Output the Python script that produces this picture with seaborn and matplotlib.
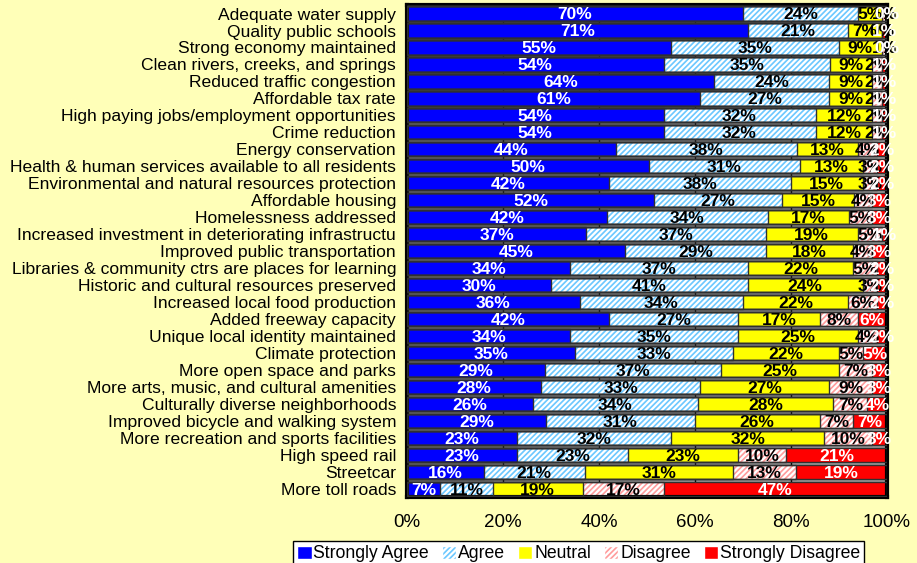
import numpy as np
import pandas as pd
import matplotlib
import matplotlib.pyplot as plt
import seaborn as sns
from matplotlib.patches import Patch


items = [
    "Adequate water supply",
    "Quality public schools",
    "Strong economy maintained",
    "Clean rivers, creeks, and springs",
    "Reduced traffic congestion",
    "Affordable tax rate",
    "High paying jobs/employment opportunities",
    "Crime reduction",
    "Energy conservation",
    "Health & human services available to all residents",
    "Environmental and natural resources protection",
    "Affordable housing",
    "Homelessness addressed",
    "Increased investment in deteriorating infrastructu",
    "Improved public transportation",
    "Libraries & community ctrs are places for learning",
    "Historic and cultural resources preserved",
    "Increased local food production",
    "Added freeway capacity",
    "Unique local identity maintained",
    "Climate protection",
    "More open space and parks",
    "More arts, music, and cultural amenities",
    "Culturally diverse neighborhoods",
    "Improved bicycle and walking system",
    "More recreation and sports facilities",
    "High speed rail",
    "Streetcar",
    "More toll roads",
]

strongly_agree = [70, 71, 55, 54, 64, 61, 54, 54, 44, 50, 42, 52, 42, 37, 45,
                  34, 30, 36, 42, 34, 35, 29, 28, 26, 29, 23, 23, 16, 7]
agree = [24, 21, 35, 35, 24, 27, 32, 32, 38, 31, 38, 27, 34, 37, 29,
         37, 41, 34, 27, 35, 33, 37, 33, 34, 31, 32, 23, 21, 11]
neutral = [5, 7, 9, 9, 9, 9, 12, 12, 13, 13, 15, 15, 17, 19, 18,
           22, 24, 22, 17, 25, 22, 25, 27, 28, 26, 32, 23, 31, 19]
disagree = [1, 0, 1, 2, 2, 2, 2, 2, 4, 3, 3, 4, 5, 5, 4,
            5, 3, 6, 8, 4, 5, 7, 9, 7, 7, 10, 10, 13, 17]
strongly_disagree = [0, 1, 0, 1, 1, 1, 1, 1, 2, 2, 2, 3, 3, 1, 3,
                     2, 2, 2, 6, 2, 5, 3, 3, 4, 7, 3, 21, 19, 47]

levels = ["Strongly Agree", "Agree", "Neutral", "Disagree", "Strongly Disagree"]
fills = ["#0000FF", "#6CC8FF", "#FFFF00", "#FF9C9C", "#FF0000"]
hatches = [None, "//////", None, "//////", None]
text_colors = ["white", "black", "black", "black", "white"]

df = pd.DataFrame({"item": items, "Strongly Agree": strongly_agree, "Agree": agree,
                   "Neutral": neutral, "Disagree": disagree,
                   "Strongly Disagree": strongly_disagree})

# 100% stacked: normalise each row
vals = df[levels].to_numpy(dtype=float)
share = vals / vals.sum(axis=1, keepdims=True) * 100
cum = np.cumsum(share, axis=1)

bg = "#FFFFB8"
plt.rcParams["font.family"] = ["Liberation Sans", "DejaVu Sans"]
plt.rcParams["hatch.linewidth"] = 1.6

fig = plt.figure(figsize=(9.17, 5.63), dpi=100, facecolor=bg)
ax = fig.add_axes([0.444, 0.117, 0.523, 0.874])
ax.set_facecolor("#9c9c9c")

# widest first, each next level painted over the left part
for i in range(4, -1, -1):
    sns.barplot(x=cum[:, i], y=df["item"], orient="h", color=fills[i],
                saturation=1, width=0.84, hatch=hatches[i],
                edgecolor="white", linewidth=0, ax=ax, zorder=2)
for i in range(4, -1, -1):
    sns.barplot(x=cum[:, i], y=df["item"], orient="h", fill=False,
                color="#303030", width=0.84, linewidth=1, ax=ax, zorder=3)

for r in range(len(items)):
    for i in range(5):
        left = cum[r, i] - share[r, i]
        ax.text(left + share[r, i] / 2, r + 0.08, f"{int(vals[r, i])}%",
                ha="center", va="center", fontsize=12.5, fontweight="bold",
                color=text_colors[i], zorder=4)

ax.set_xlim(0, 100)
ax.set_ylim(len(items) - 0.5, -0.5)
ax.set_xticks([0, 20, 40, 60, 80, 100])
ax.set_xticklabels([f"{t}%" for t in [0, 20, 40, 60, 80, 100]], fontsize=13.5)
ax.tick_params(axis="x", length=0, pad=12)
ax.tick_params(axis="y", length=0, pad=8, labelsize=12.6)
ax.set_xlabel("")
ax.set_ylabel("")
ax.xaxis.grid(True, color="black", linewidth=1, zorder=1)
ax.set_axisbelow(True)
for s in ax.spines.values():
    s.set_linewidth(3)
    s.set_color("black")

handles = []
for i in range(5):
    try:
        p = Patch(facecolor=fills[i], hatch=hatches[i], edgecolor="black",
                  hatchcolor="white", linewidth=1, label=levels[i])
    except (TypeError, AttributeError):
        p = Patch(facecolor=fills[i], hatch=hatches[i], edgecolor="white",
                  linewidth=1, label=levels[i])
    handles.append(p)

leg = fig.legend(handles=handles, loc="upper center", ncol=5,
                 bbox_to_anchor=(0.631, 0.039), borderaxespad=0,
                 fontsize=12.7, frameon=True,
                 fancybox=False, edgecolor="black", facecolor="white",
                 framealpha=1, handlelength=0.8, handleheight=0.8,
                 handletextpad=0.1, columnspacing=0.75, borderpad=0.25)
leg.get_frame().set_linewidth(1)

fig.savefig("out.png", dpi=100, facecolor=bg)
